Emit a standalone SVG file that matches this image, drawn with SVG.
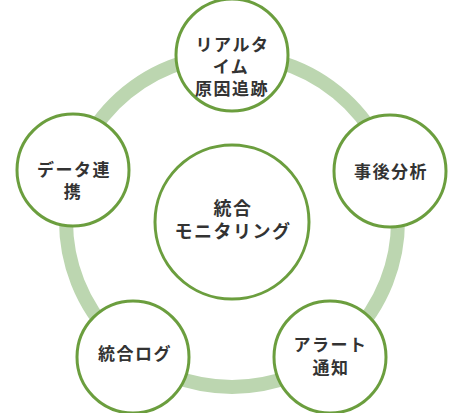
<svg xmlns="http://www.w3.org/2000/svg" width="462" height="413" viewBox="0 0 462 413">
  <style>
    .ring { fill: none; stroke: #bcd6b0; stroke-width: 14; }
    .node { fill: #ffffff; stroke: #6b9e3e; stroke-width: 3; }
    .label { font-family: "Noto Sans CJK JP", "Noto Sans", sans-serif; font-weight: 700; font-size: 17px; letter-spacing: 1.5px; fill: #333333; text-anchor: middle; dominant-baseline: central; }
    .big { font-size: 18px; }
  </style>
  <rect width="462" height="413" fill="#ffffff"/>
  <g id="connectors">
    <circle class="ring" cx="232" cy="221" r="166"/>
  </g>
  <g id="center">
    <circle class="node" cx="232" cy="222" r="77"/>
    <text class="label big"><tspan x="233" y="207">統合</tspan><tspan x="233" y="230">モニタリング</tspan></text>
  </g>
  <g id="realtime">
    <circle class="node" cx="232" cy="55" r="56"/>
    <text class="label"><tspan x="232.5" y="43">リアルタ</tspan><tspan x="231" y="65">イム</tspan><tspan x="232" y="87">原因追跡</tspan></text>
  </g>
  <g id="analysis">
    <circle class="node" cx="390" cy="171" r="56"/>
    <text class="label" x="391" y="170">事後分析</text>
  </g>
  <g id="alert">
    <circle class="node" cx="330" cy="357" r="56"/>
    <text class="label"><tspan x="330.5" y="343">アラート</tspan><tspan x="331" y="366">通知</tspan></text>
  </g>
  <g id="log">
    <circle class="node" cx="133" cy="357" r="56"/>
    <text class="label" x="135" y="352">統合ログ</text>
  </g>
  <g id="datalink">
    <circle class="node" cx="73" cy="170" r="56"/>
    <text class="label"><tspan x="74" y="168">データ連</tspan><tspan x="73" y="190">携</tspan></text>
  </g>
</svg>
